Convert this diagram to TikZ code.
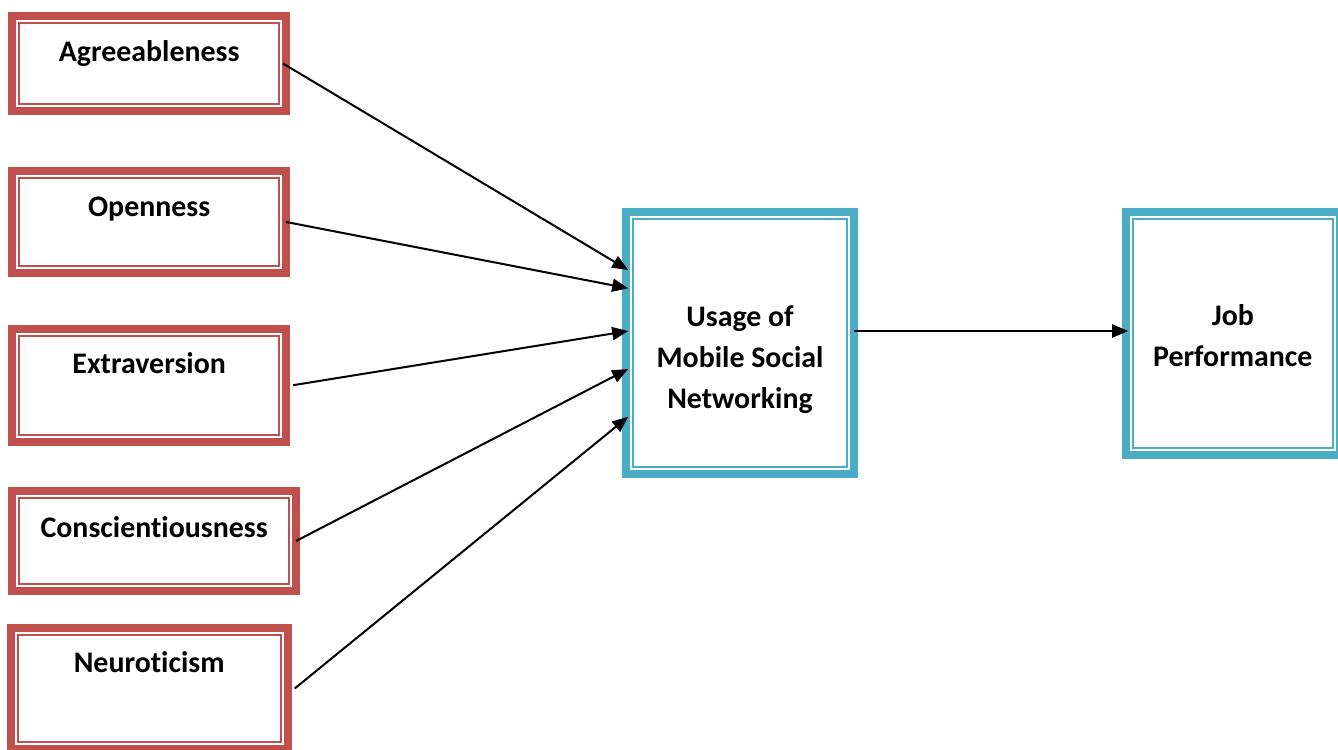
\documentclass[tikz,border=0pt]{standalone}
\usepackage{fontspec}
\setmainfont{Carlito}[Ligatures=NoCommon]
\usepackage{xcolor}
\usetikzlibrary{positioning,arrows.meta}
\definecolor{trait}{HTML}{C0504D}
\definecolor{outcome}{HTML}{4BACC6}
\begin{document}
\begin{tikzpicture}[box/.style = {draw=#1, line width=0.16cm, inner sep=0pt, outer sep=0pt, anchor=north west, align=center,
			font=\fontsize{17}{23.3}\selectfont\bfseries,
			path picture={\draw[#1, line width=0.04cm] ([shift={(0.14,-0.14)}]path picture bounding box.north west) rectangle ([shift={(-0.14,0.14)}]path picture bounding box.south east);}},
		link/.style = {-{Triangle[length=0.32cm,width=0.26cm]}, line width=0.04cm}]
			\useasboundingbox (0,0) rectangle (26.76,-14.98);
			\node[box=trait, minimum width=5.474cm, text height=0.90cm, text depth=1.00cm] (agree) at (0.246,-0.32) {Agreeableness};
			\node[box=trait, minimum width=5.474cm, text height=0.92cm, text depth=1.13cm] (open) at (0.246,-3.414) {Openness};
			\node[box=trait, minimum width=5.474cm, text height=0.886cm, text depth=1.374cm] (extra) at (0.246,-6.574) {Extraversion};
			\node[box=trait, minimum width=5.674cm, text height=0.92cm, text depth=1.08cm] (consc) at (0.246,-9.82) {Conscientiousness};
			\node[box=trait, minimum width=5.54cm, text height=0.894cm, text depth=1.526cm] (neuro) at (0.214,-12.56) {Neuroticism};
			\node[box=outcome, minimum width=4.572cm, text height=3.914cm, text depth=1.314cm] (usage) at (12.514,-4.246) {Usage of\\Mobile Social\\Networking};
			\node[box=outcome, minimum width=4.286cm, text height=3.074cm, text depth=1.786cm] (job) at (22.514,-4.246) {Job\\Performance};
			\draw[link] ([xshift=-0.06cm]agree.east) -- ([xshift=0.05cm,yshift=1.46cm]usage.west);
			\draw[link] (open.east) -- ([xshift=0.05cm,yshift=1.094cm]usage.west);
			\draw[link] ([xshift=0.14cm]extra.east) -- ([xshift=0.05cm,yshift=0.24cm]usage.west);
			\draw[link] (consc.east) -- ([xshift=0.05cm,yshift=-0.52cm]usage.west);
			\draw[link] ([xshift=0.14cm]neuro.east) -- ([xshift=0.05cm,yshift=-1.474cm]usage.west);
			\draw[link] ([yshift=0.24cm]usage.east) -- ([xshift=0.05cm,yshift=0.24cm]usage.east -| job.west);
		\end{tikzpicture}
\end{document}
